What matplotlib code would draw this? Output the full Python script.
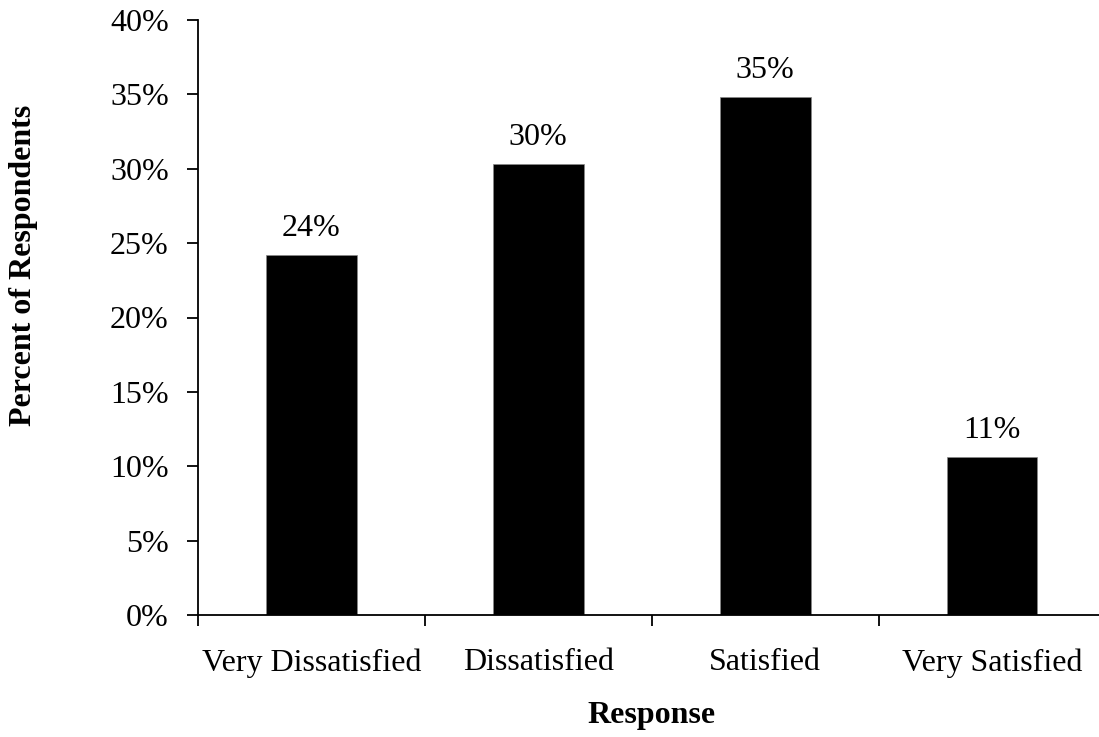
import matplotlib
matplotlib.use("Agg")
import matplotlib.pyplot as plt
import numpy as np
from matplotlib.ticker import FuncFormatter, FixedLocator

plt.rcParams['font.family'] = ['Liberation Serif', 'DejaVu Serif']

# Survey responses
responses = ["Very Dissatisfied", "Dissatisfied", "Satisfied", "Very Satisfied"]
percents = [24.2, 30.3, 34.8, 10.6]
y_ticks = [0, 5, 10, 15, 20, 25, 30, 35, 40]

W, H = 1099, 737
fig = plt.figure(figsize=(W / 100, H / 100), dpi=100)
ax = fig.add_axes([198 / W, 122 / H, (W - 198) / W, 595 / H])

x = np.arange(len(responses))
bars = ax.bar(x, percents, width=0.4, color='black', edgecolor='#888888', linewidth=0.5)

for xi, v in zip(x, percents):
    ax.annotate(f"{v:.0f}%", (xi, v), xytext=(0, 9), textcoords='offset points',
                ha='center', va='bottom', fontsize=23)

ax.set_ylim(0, 40)
ax.set_xlim(-0.5, 3.5 - 6.5 / 227)
ax.set_yticks(y_ticks)
ax.yaxis.set_major_formatter(FuncFormatter(lambda v, p: f"{v:.0f}%"))
ax.tick_params(axis='y', direction='out', length=8, width=1.3, pad=13, labelsize=23)

# category boundaries get the tick marks, names sit between them
ax.xaxis.set_major_locator(FixedLocator(np.arange(len(responses) + 1) - 0.5))
ax.xaxis.set_minor_locator(FixedLocator(x))
ax.set_xticklabels([], minor=False)
ax.set_xticklabels(responses, minor=True)
ax.tick_params(axis='x', which='major', direction='out', length=8, width=1.3)
ax.tick_params(axis='x', which='minor', length=0, pad=24, labelsize=23)

for side in ('top', 'right'):
    ax.spines[side].set_visible(False)
for side in ('left', 'bottom'):
    ax.spines[side].set_linewidth(1.3)

fig.text(24 / W, 1 - 265 / H, "Percent of Respondents", rotation=90, fontsize=23,
         fontweight='bold', ha='center', va='center')
fig.text(651 / W, 1 - 716 / H, "Response", fontsize=23, fontweight='bold',
         ha='center', va='center')

fig.savefig("out.png", dpi=100)
